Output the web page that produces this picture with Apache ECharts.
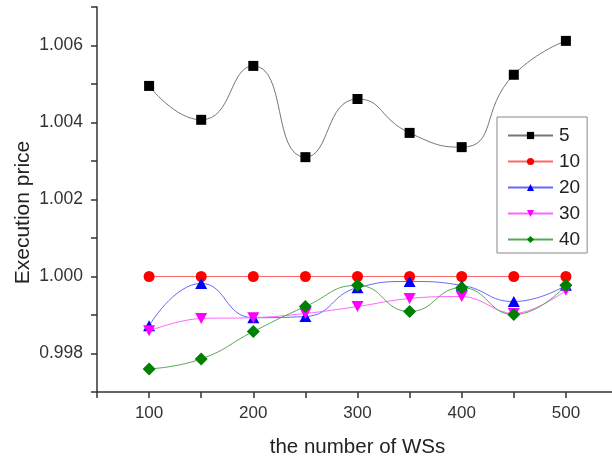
<!DOCTYPE html>
<html>
<head>
<meta charset="utf-8">
<script src="https://cdn.jsdelivr.net/npm/echarts@6/dist/echarts.min.js"></script>
<style>
html,body{margin:0;padding:0;background:#fff;}
#chart{width:612px;height:459px;}
</style>
</head>
<body>
<div id="chart"></div>
<script>
const xValues = [100, 150, 200, 250, 300, 350, 400, 450, 500];
const seriesNames = ['5', '10', '20', '30', '40'];
const s5  = [1.00495, 1.00407, 1.00547, 1.0031, 1.00461, 1.00373, 1.00336, 1.00524, 1.00612];
const s10 = [1.0, 1.0, 1.0, 1.0, 1.0, 1.0, 1.0, 1.0, 1.0];
const s20 = [0.99872, 0.99982, 0.99893, 0.99896, 0.99971, 0.99987, 0.99977, 0.99935, 0.99977];
const s30 = [0.99859, 0.99891, 0.99893, 0.99904, 0.99922, 0.99943, 0.99948, 0.99904, 0.99964];
const s40 = [0.9976, 0.99786, 0.99857, 0.99922, 0.99977, 0.99909, 0.99971, 0.99901, 0.99977];

const allData = [s5, s10, s20, s30, s40];
const markerColors = ['#000000', '#ff0000', '#0000ff', '#ff00ff', '#008000'];
const lineColors = ['#777777', '#ff6666', '#6666ff', '#ff66ff', '#55aa55'];
const symbols = ['rect', 'circle', 'triangle', 'path://M0,0 L20,0 L10,17 Z', 'diamond'];
const symbolSizes = [10, 11, [12, 11], [12, 11], 13];
const smooth = [0.55, false, 0.5, 0.4, 0.5];

const chart = echarts.init(document.getElementById('chart'), null, {renderer: 'canvas'});
const font = 'Liberation Sans, Arial, sans-serif';

const series = seriesNames.map((name, i) => ({
  name: name,
  type: 'line',
  data: xValues.map((x, j) => [x, allData[i][j]]),
  symbol: symbols[i],
  symbolSize: symbolSizes[i],
  smooth: smooth[i],
  itemStyle: {color: markerColors[i]},
  lineStyle: {color: lineColors[i], width: 1},
  z: 2 + i
}));

chart.setOption({
  animation: false,
  backgroundColor: '#fff',
  grid: {left: 97, right: -6, top: 7, bottom: 67, containLabel: false, outerBoundsMode: 'none'},
  legend: {
    orient: 'vertical',
    left: 497, top: 117,
    padding: [9, 7, 4, 10],
    itemGap: 7,
    itemWidth: 45,
    itemHeight: 9,
    borderColor: '#888',
    borderWidth: 1,
    textStyle: {fontFamily: font, fontSize: 19, color: '#222', padding: [0, 0, 0, 1]},
    data: seriesNames
  },
  xAxis: {
    type: 'value',
    min: 50, max: 550, interval: 50,
    name: 'the number of WSs',
    nameLocation: 'middle',
    nameGap: 45,
    nameMoveOverlap: false,
    nameTextStyle: {fontFamily: font, fontSize: 20.5, color: '#222'},
    splitLine: {show: false},
    axisLine: {lineStyle: {color: '#333', width: 1.5}},
    axisTick: {length: 6, lineStyle: {color: '#333', width: 1.5}},
    axisLabel: {
      fontFamily: font, fontSize: 17, color: '#333', margin: 13,
      formatter: v => (v % 100 === 0 && v >= 100 && v <= 500) ? String(v) : ''
    }
  },
  yAxis: {
    type: 'value',
    min: 0.997, max: 1.007, interval: 0.001,
    name: 'Execution price',
    nameLocation: 'middle',
    nameGap: 63,
    nameMoveOverlap: false,
    nameTextStyle: {fontFamily: font, fontSize: 21, color: '#222', padding: [0, 0, 0, -26]},
    splitLine: {show: false},
    axisLine: {lineStyle: {color: '#333', width: 1.5}},
    axisTick: {length: 6, lineStyle: {color: '#333', width: 1.5}},
    axisLabel: {
      fontFamily: font, fontSize: 17.5, color: '#333', margin: 14,
      formatter: v => {
        const k = Math.round(v * 1000);
        return (k % 2 === 0 && k >= 998 && k <= 1006) ? (k / 1000).toFixed(3) : '';
      }
    }
  },
  series: series
});
</script>
</body>
</html>
